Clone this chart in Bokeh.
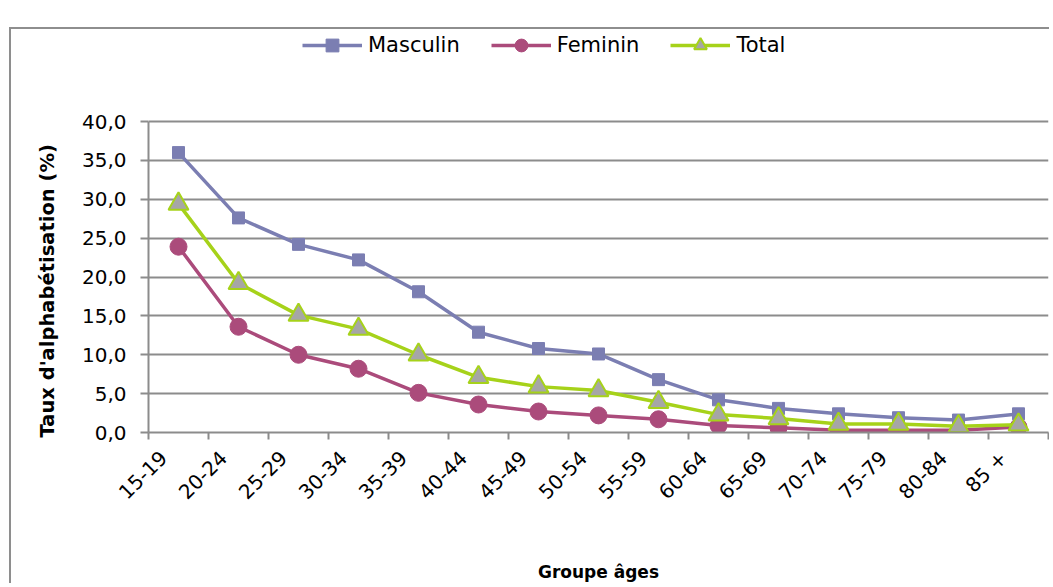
import math
from bokeh.plotting import figure
from bokeh.models import FixedTicker, Legend, LegendItem, Title
from bokeh.embed import file_html
from bokeh.resources import INLINE

categories = ["15-19", "20-24", "25-29", "30-34", "35-39", "40-44", "45-49",
              "50-54", "55-59", "60-64", "65-69", "70-74", "75-79", "80-84", "85 +"]
masculin = [36.0, 27.6, 24.2, 22.2, 18.1, 12.9, 10.8, 10.1, 6.8, 4.2, 3.1, 2.4, 1.9, 1.6, 2.4]
feminin = [23.9, 13.6, 10.0, 8.2, 5.1, 3.6, 2.7, 2.2, 1.7, 0.9, 0.6, 0.3, 0.3, 0.3, 0.7]
total = [29.4, 19.2, 15.1, 13.3, 10.0, 7.1, 5.9, 5.4, 3.9, 2.3, 1.8, 1.1, 1.1, 0.8, 1.0]
y_ticks = [0, 5, 10, 15, 20, 25, 30, 35, 40]

x = [i + 0.5 for i in range(len(categories))]
label_pos = [i + 0.25 for i in range(len(categories))]

GRID = "#8c8c8c"
C_M = "#7b7eb2"
C_F = "#ab4b7b"
C_T = "#a6d21a"
FONT = "DejaVu Sans"
Y_TITLE = "Taux d'alphabétisation (%)"

# layout (pixels)
W, H = 1040, 556
MB_TOP, MB_BOTTOM, MB_LEFT, MB_RIGHT = 0, 153, 137, 3
AXIS_PX = 311  # pixel height of the 0..40 part of the axis
frame_h = H - MB_TOP - MB_BOTTOM
y_end = y_ticks[-1] * frame_h / AXIS_PX

p = figure(width=W, height=H, output_backend="svg", toolbar_location=None,
           x_range=(0, len(categories)), y_range=(0, y_end),
           min_border_left=MB_LEFT, min_border_right=MB_RIGHT,
           min_border_top=MB_TOP, min_border_bottom=MB_BOTTOM)
p.styles = {"margin-top": "27px", "margin-left": "9px",
            "border-left": "2px solid #8e8e8e", "border-top": "2px solid #8e8e8e"}
p.outline_line_color = None
p.background_fill_color = "white"
p.border_fill_color = "white"

# x axis
p.xaxis.ticker = FixedTicker(ticks=label_pos, minor_ticks=list(range(len(categories) + 1)))
p.xaxis.major_label_overrides = {xi: c for xi, c in zip(label_pos, categories)}
p.xaxis.major_label_orientation = math.pi / 4
p.xaxis.major_tick_out = 0
p.xaxis.major_tick_in = 0
p.xaxis.minor_tick_out = 7
p.xaxis.minor_tick_in = 0
p.xaxis.minor_tick_line_color = GRID
p.xaxis.minor_tick_line_width = 2
p.xaxis.axis_line_color = GRID
p.xaxis.axis_line_width = 2
p.xaxis.major_label_text_font = FONT
p.xaxis.major_label_text_font_size = "20px"
p.xaxis.major_label_text_color = "black"
p.xaxis.major_label_standoff = 15
p.xaxis.axis_label = "Groupe âges"
p.xaxis.axis_label_text_font = FONT
p.xaxis.axis_label_text_font_style = "bold"
p.xaxis.axis_label_text_font_size = "17px"
p.xaxis.axis_label_text_color = "black"
p.xaxis.axis_label_standoff = 46

# y axis
yax = p.yaxis[0]
yax.bounds = (y_ticks[0], y_ticks[-1])
yax.ticker = FixedTicker(ticks=y_ticks, minor_ticks=[])
yax.major_label_overrides = {v: f"{v:.1f}".replace(".", ",") for v in y_ticks}
yax.major_tick_out = 8
yax.major_tick_in = 0
yax.major_tick_line_color = GRID
yax.major_tick_line_width = 2
yax.axis_line_color = GRID
yax.axis_line_width = 2
yax.major_label_text_font = FONT
yax.major_label_text_font_size = "20px"
yax.major_label_text_color = "black"
yax.major_label_standoff = 14

ytitle = Title(text=Y_TITLE, align="left", offset=-5, vertical_align="top",
               text_font=FONT, text_font_style="bold", text_font_size="19.5px",
               text_color="black", standoff=36)
p.add_layout(ytitle, "left")

p.xgrid.grid_line_color = None
p.ygrid.grid_line_color = GRID
p.ygrid.grid_line_width = 2
p.ygrid.ticker = FixedTicker(ticks=y_ticks[1:])

lm = p.line(x, masculin, line_color=C_M, line_width=3.5)
sm = p.scatter(x, masculin, marker="square", size=12, fill_color=C_M, line_color=C_M)
lf = p.line(x, feminin, line_color=C_F, line_width=3.5)
sf = p.scatter(x, feminin, marker="circle", size=17, fill_color=C_F, line_color=C_F)
lt = p.line(x, total, line_color=C_T, line_width=3.5)
st = p.scatter(x, total, marker="triangle", size=20, fill_color="#a6a6a6",
               line_color=C_T, line_width=2)

legend = Legend(items=[
    LegendItem(label="Masculin", renderers=[lm, sm]),
    LegendItem(label="Feminin", renderers=[lf, sf]),
    LegendItem(label="Total", renderers=[lt, st]),
], orientation="horizontal", location=(154, 371))
legend.glyph_width = 60
legend.glyph_height = 32
legend.label_height = 32
legend.label_standoff = 6
legend.spacing = 31
legend.padding = 0
legend.margin = 0
legend.border_line_color = None
legend.background_fill_alpha = 0
legend.label_text_font = FONT
legend.label_text_font_size = "21px"
legend.label_text_color = "black"
p.add_layout(legend, "center")

open("out.html", "w").write(file_html(p, INLINE))
